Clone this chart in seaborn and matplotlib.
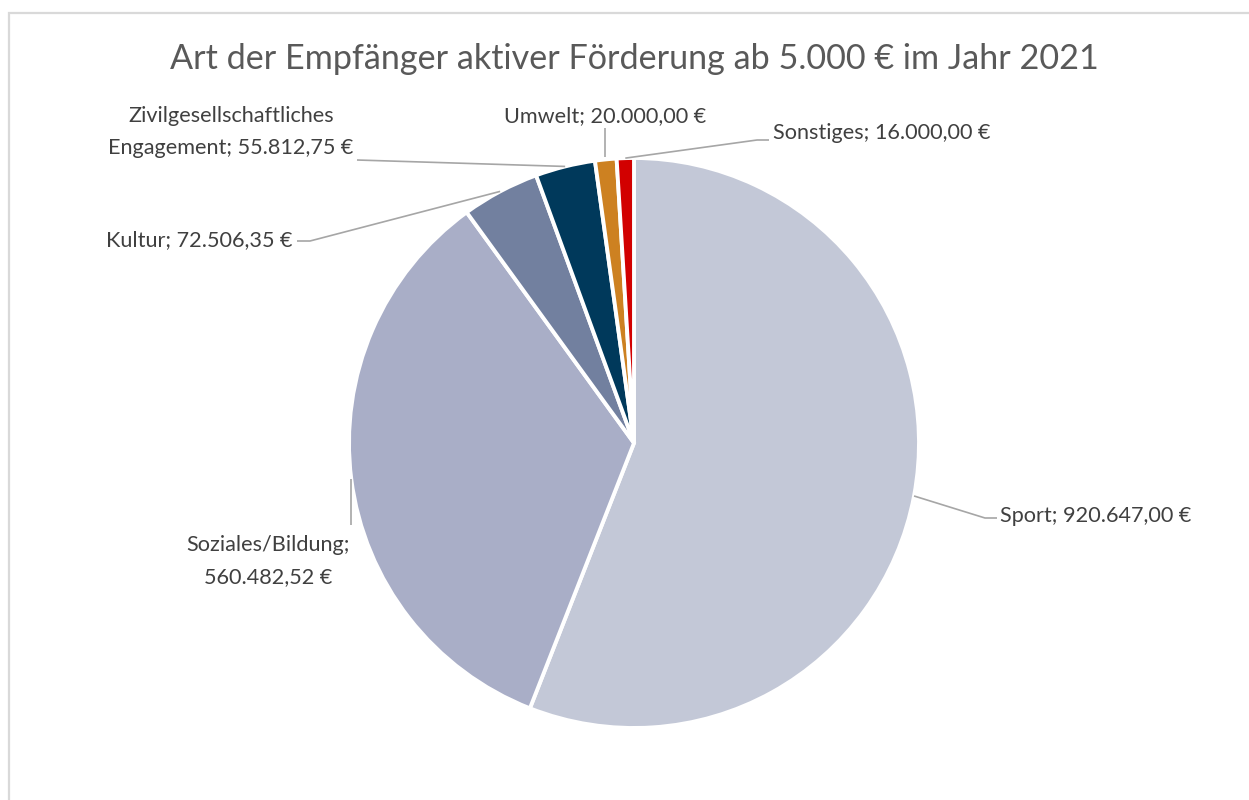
import numpy as np
import matplotlib
matplotlib.use("Agg")
import matplotlib.pyplot as plt
from matplotlib.patches import Rectangle
import seaborn as sns

# Data
categories = ["Sport", "Soziales/Bildung", "Kultur",
              "Zivilgesellschaftliches Engagement", "Umwelt", "Sonstiges"]
amounts = [920647.00, 560482.52, 72506.35, 55812.75, 20000.00, 16000.00]
label_texts = ["Sport; 920.647,00 €",
               "Soziales/Bildung;\n560.482,52 €",
               "Kultur; 72.506,35 €",
               "Zivilgesellschaftliches\nEngagement; 55.812,75 €",
               "Umwelt; 20.000,00 €",
               "Sonstiges; 16.000,00 €"]
colors = ["#C3C8D7", "#A9AEC7", "#72809F", "#00395B", "#CD8121", "#D20000"]

title = "Art der Empfänger aktiver Förderung ab 5.000 € im Jahr 2021"

sns.set_theme(style="white")
plt.rcParams["font.family"] = ["Lato", "DejaVu Sans"]

W, H = 1249, 800
cx, cy, R = 634, 443, 285  # pie centre / radius in pixels


def px(x, y):
    # pixel position -> data coords (pie radius = 1)
    return (x - cx) / R, (cy - y) / R


fig = plt.figure(figsize=(W / 100, H / 100), dpi=100)
ax = fig.add_axes([0, 0, 1, 1])

wedges, _ = ax.pie(amounts, colors=sns.color_palette(colors), startangle=90,
                   counterclock=False, radius=1,
                   wedgeprops=dict(edgecolor="white", linewidth=2.8))

ax.set_xlim(px(0, 0)[0], px(W, 0)[0])
ax.set_ylim(px(0, H)[1], px(0, 0)[1])
ax.set_aspect("equal", adjustable="box")
ax.axis("off")

# label layout: text anchor (px), alignment, leader path points (px) after slice point
layout = [
    dict(pos=(1000, 516), ha="left", path=[(985, 518), (997, 518)], r=1.0),
    dict(pos=(268, 561), ha="center", path=[(349, 525)], r=1.0, vert=True),
    dict(pos=(106, 240), ha="left", path=[(310, 241), (297, 241)], r=1.0),
    dict(pos=(231, 132), ha="center", path=[(357, 160)], r=1.0),
    dict(pos=(605, 116), ha="center", path=[(605, 128)], r=1.01, vert=True),
    dict(pos=(773, 133), ha="left", path=[(757, 140), (769, 140)], r=1.0),
]

line_col = "#A6A6A6"
for w, txt, lay in zip(wedges, label_texts, layout):
    mid = np.deg2rad((w.theta1 + w.theta2) / 2)
    x0, y0 = lay["r"] * np.cos(mid), lay["r"] * np.sin(mid)
    pts = [px(*p) for p in lay["path"]]
    if lay.get("vert"):
        pts = [(x0, p[1]) for p in pts]
    xs = [x0] + [p[0] for p in pts]
    ys = [y0] + [p[1] for p in pts]
    ax.plot(xs, ys, color=line_col, lw=1.2, solid_capstyle="butt")
    tx, ty = px(*lay["pos"])
    ax.text(tx, ty, txt, ha=lay["ha"], va="center", fontsize=15.6,
            color="#404040", multialignment="center", linespacing=1.7)

fig.text(634 / W, 1 - 59 / H, title, ha="center", va="center",
         fontsize=24.6, color="#595959")

# light chart-area frame
fig.patches.append(Rectangle((8.5 / W, -0.1), 1.2, 1 - 13 / H + 0.1,
                             transform=fig.transFigure, fill=False,
                             edgecolor="#D9D9D9", linewidth=1.6))

fig.savefig("out.png", dpi=100, facecolor="white")
